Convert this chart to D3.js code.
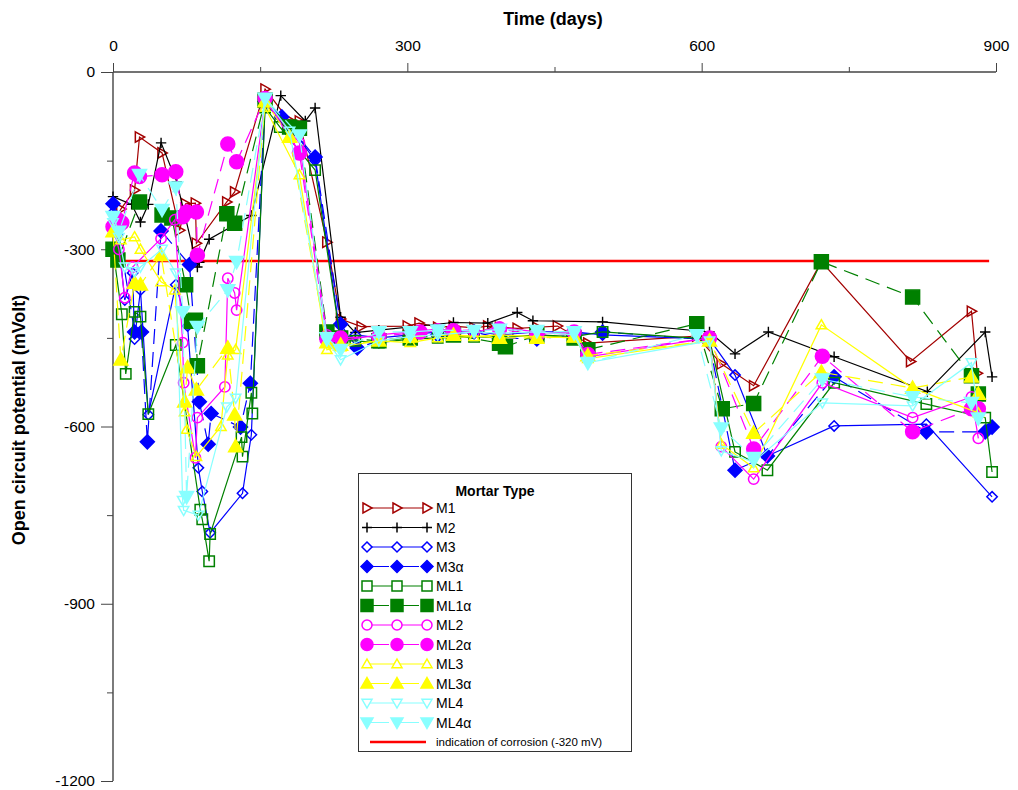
<!DOCTYPE html>
<html><head><meta charset="utf-8">
<script src="https://cdn.jsdelivr.net/npm/d3@7"></script>
<style>body{margin:0;background:#fff;} text{font-family:"Liberation Sans",Arial,sans-serif;}</style>
</head><body>
<svg id="c" width="1018" height="790"></svg>
<script>
// ---- data: [day, mV] ----
const M1 = [[0,-260],[8,-232],[22,-200],[27,-110],[50,-137],[68,-268],[74,-223],[84,-222],[85,-290],[116,-220],[124,-203],[155,-29],[179,-81],[190,-83],[218,-288],[232,-418],[253,-431],[300,-430],[312,-425],[331,-432],[347,-430],[368,-433],[382,-430],[394,-432],[412,-434],[432,-432],[453,-430],[484,-459],[595,-447],[620,-494],[653,-531],[722,-321],[813,-490],[875,-405],[881,-510]];
const M2 = [[0,-211],[19,-224],[28,-254],[36,-224],[49,-120],[65,-186],[86,-330],[88,-322],[98,-283],[141,-243],[171,-40],[196,-83],[206,-61],[232,-415],[247,-441],[271,-437],[347,-424],[382,-425],[412,-407],[428,-421],[499,-423],[608,-440],[634,-477],[668,-440],[735,-482],[830,-541],[889,-440],[896,-516]];
const M3 = [[0,-238],[5,-275],[12,-386],[20,-340],[22,-452],[28,-369],[36,-580],[64,-360],[76,-430],[87,-670],[91,-710],[99,-780],[132,-713],[141,-614],[155,-55],[180,-90],[206,-150],[232,-450],[247,-445],[271,-450],[303,-445],[331,-440],[368,-438],[394,-445],[432,-440],[470,-440],[499,-445],[608,-452],[634,-513],[667,-650],[735,-599],[829,-596],[896,-719]];
const M3a = [[0,-223],[5,-265],[22,-440],[29,-440],[35,-626],[49,-269],[78,-326],[88,-558],[97,-630],[100,-578],[130,-601],[140,-527],[155,-50],[172,-76],[206,-144],[232,-427],[249,-467],[271,-455],[303,-448],[331,-445],[368,-440],[394,-450],[432,-452],[470,-445],[499,-440],[607,-453],[634,-674],[667,-650],[735,-516],[829,-609],[889,-609],[896,-601]];
const ML1 = [[0,-300],[9,-410],[13,-511],[22,-406],[28,-414],[36,-579],[64,-462],[89,-741],[91,-757],[98,-828],[99,-782],[131,-618],[132,-651],[141,-543],[142,-578],[155,-60],[170,-93],[206,-166],[232,-455],[247,-455],[271,-458],[303,-452],[331,-450],[368,-448],[394,-450],[432,-445],[470,-448],[499,-440],[608,-452],[634,-643],[667,-674],[735,-526],[829,-562],[889,-585],[896,-677]];
const ML1a = [[0,-300],[5,-318],[27,-220],[50,-242],[60,-247],[74,-360],[80,-422],[84,-420],[86,-497],[116,-240],[124,-256],[155,-48],[180,-93],[190,-95],[218,-440],[232,-450],[271,-455],[303,-450],[347,-445],[394,-459],[400,-465],[432,-445],[470,-450],[484,-470],[595,-426],[621,-570],[653,-561],[722,-321],[815,-381],[875,-514],[882,-545]];
const ML2 = [[0,-262],[6,-300],[12,-382],[20,-330],[49,-282],[63,-250],[71,-458],[72,-526],[84,-653],[86,-585],[114,-533],[117,-349],[124,-374],[126,-403],[155,-50],[190,-120],[218,-445],[232,-455],[271,-445],[303,-440],[331,-435],[368,-440],[394,-432],[432,-440],[470,-445],[484,-482],[608,-450],[620,-634],[653,-689],[723,-526],[815,-585],[875,-550],[882,-620]];
const ML2a = [[0,-262],[5,-250],[9,-255],[22,-171],[27,-177],[50,-174],[64,-169],[71,-245],[75,-237],[85,-237],[86,-310],[117,-122],[126,-152],[155,-45],[190,-137],[218,-452],[232,-450],[271,-448],[313,-440],[347,-438],[394,-435],[432,-445],[470,-440],[484,-478],[608,-450],[653,-638],[723,-481],[815,-609],[875,-570],[882,-570]];
const ML3 = [[0,-270],[8,-284],[22,-279],[28,-300],[49,-355],[63,-369],[73,-575],[75,-605],[85,-651],[110,-600],[117,-479],[125,-470],[155,-60],[190,-174],[218,-470],[232,-465],[271,-455],[303,-458],[331,-450],[368,-448],[394,-445],[432,-448],[470,-450],[484,-485],[608,-455],[620,-630],[653,-670],[722,-428],[815,-535],[882,-577]];
const ML3a = [[0,-270],[8,-487],[22,-357],[28,-360],[49,-310],[73,-558],[76,-500],[85,-538],[117,-467],[124,-580],[125,-634],[155,-50],[180,-110],[218,-458],[232,-462],[271,-455],[303,-448],[347,-445],[394,-450],[432,-450],[470,-448],[484,-480],[608,-455],[653,-611],[722,-508],[815,-535],[875,-516],[882,-545]];
const ML4 = [[0,-255],[6,-280],[12,-330],[22,-338],[28,-330],[50,-300],[64,-340],[71,-725],[72,-742],[87,-750],[116,-567],[125,-552],[155,-45],[180,-100],[218,-455],[232,-487],[271,-455],[303,-448],[331,-445],[368,-440],[394,-442],[432,-440],[470,-445],[484,-492],[608,-455],[620,-641],[653,-660],[723,-560],[815,-565],[875,-492],[882,-586]];
const ML4a = [[0,-245],[6,-270],[27,-174],[50,-233],[64,-195],[71,-406],[75,-719],[86,-431],[117,-369],[126,-321],[155,-45],[190,-107],[218,-450],[232,-470],[271,-440],[303,-440],[331,-437],[368,-438],[394,-436],[432,-438],[470,-440],[484,-492],[595,-445],[620,-603],[653,-653],[723,-520],[815,-550],[875,-560],[882,-586]];

const seriesNames = ["M1","M2","M3","M3α","ML1","ML1α","ML2","ML2α","ML3","ML3α","ML4","ML4α"];
const seriesData = [M1,M2,M3,M3a,ML1,ML1a,ML2,ML2a,ML3,ML3a,ML4,ML4a];
const seriesColors = ["#a30000","#000000","#0000ff","#0000ff","#008000","#008000","#ff00ff","#ff00ff","#ffff00","#ffff00","#88ffff","#88ffff"];
const seriesShapes = ["triR","plus","diamond","diamond","square","square","circle","circle","triUp","triUp","triDown","triDown"];
const seriesFilled = [false,false,false,true,false,true,false,true,false,true,false,true];
const xTicks = [0,300,600,900];
const xMinor = [150,450,750];
const yTicks = [0,-300,-600,-900,-1200];
const yMinor = [-150,-450,-750,-1050];
const corrosionLevel = -320;

// ---- layout ----
const svg = d3.select("#c");
const x = d3.scaleLinear().domain([0,900]).range([113,996]);
const y = d3.scaleLinear().domain([0,-1200]).range([72,781]);

function shapePath(shape, r){
  switch(shape){
    case "triR": return `M${-r*0.8},${-r}L${r},0L${-r*0.8},${r}Z`;
    case "plus": return `M${-r},0H${r}M0,${-r}V${r}`;
    case "diamond": return `M0,${-r}L${r},0L0,${r}L${-r},0Z`;
    case "square": return `M${-r},${-r}H${r}V${r}H${-r}Z`;
    case "circle": return d3.arc()({innerRadius:0,outerRadius:r,startAngle:0,endAngle:2*Math.PI});
    case "triUp": return `M0,${-r}L${r},${r*0.75}L${-r},${r*0.75}Z`;
    case "triDown": return `M0,${r}L${r},${-r*0.75}L${-r},${-r*0.75}Z`;
  }
}
function markerR(i){ return seriesFilled[i] ? 7 : 5.2; }

// axes
const gx = svg.append("g").attr("transform","translate(0,72)");
gx.call(d3.axisTop(x).tickValues(xTicks).tickSize(9).tickPadding(12).tickFormat(d3.format("d")));
const gxm = svg.append("g").attr("transform","translate(0,72)");
gxm.call(d3.axisTop(x).tickValues(xMinor).tickSize(5).tickFormat(""));
gxm.select(".domain").remove();
const gy = svg.append("g").attr("transform","translate(113,0)");
gy.call(d3.axisLeft(y).tickValues(yTicks).tickSize(12).tickPadding(6).tickFormat(d=>String(d)));
const gym = svg.append("g").attr("transform","translate(113,0)");
gym.call(d3.axisLeft(y).tickValues(yMinor).tickSize(6).tickFormat(""));
gym.select(".domain").remove();
gx.select(".domain").attr("d","M113,0H996");
gy.select(".domain").attr("d","M0,72V781");
svg.selectAll(".domain").attr("stroke","#444").attr("stroke-width",1.4);
svg.selectAll(".tick line").attr("stroke","#444");
svg.selectAll(".tick text").attr("font-size",15.5).attr("fill","#000").style("font-family","'Liberation Sans',Arial,sans-serif");

svg.append("text").attr("x",553).attr("y",25).attr("text-anchor","middle")
  .attr("font-size",18).attr("font-weight","bold").text("Time (days)");
svg.append("text").attr("transform","translate(25,420) rotate(-90)").attr("text-anchor","middle")
  .attr("font-size",18).attr("font-weight","bold").text("Open circuit potential (mVolt)");

// corrosion line
svg.append("line").attr("x1",x(2)).attr("x2",x(893)).attr("y1",y(corrosionLevel)).attr("y2",y(corrosionLevel))
  .attr("stroke","#ff0000").attr("stroke-width",2.5);

const line = d3.line().x(d=>x(d[0])).y(d=>y(d[1]));
seriesData.forEach((data,i)=>{
  const g = svg.append("g");
  g.append("path").attr("d",line(data)).attr("fill","none").attr("stroke",seriesColors[i])
    .attr("stroke-width",1.2).attr("stroke-dasharray",seriesFilled[i]?"15,8":null);
  g.selectAll("path.m").data(data).join("path").attr("class","m")
    .attr("transform",d=>`translate(${x(d[0])},${y(d[1])})`)
    .attr("d",shapePath(seriesShapes[i],markerR(i)))
    .attr("fill",seriesFilled[i]?seriesColors[i]:"none")
    .attr("stroke",seriesColors[i]).attr("stroke-width",seriesShapes[i]==="plus"?1.4:1.5);
});

// legend
const lg = svg.append("g");
lg.append("rect").attr("x",358.5).attr("y",473.5).attr("width",273).attr("height",278)
  .attr("fill","#fff").attr("stroke","#333").attr("stroke-width",1);
lg.append("text").attr("x",495).attr("y",496).attr("text-anchor","middle").attr("font-size",14)
  .attr("font-weight","bold").text("Mortar Type");
seriesNames.forEach((name,i)=>{
  const yy = 508 + i*19.5;
  lg.append("line").attr("x1",367).attr("x2",427).attr("y1",yy).attr("y2",yy)
    .attr("stroke",seriesColors[i]).attr("stroke-width",1.2).attr("stroke-dasharray",seriesFilled[i]?"22,8":null);
  [367,397,427].forEach(px=>{
    lg.append("path").attr("transform",`translate(${px},${yy})`).attr("d",shapePath(seriesShapes[i],seriesFilled[i]?6:5))
      .attr("fill",seriesFilled[i]?seriesColors[i]:"#fff").attr("stroke",seriesColors[i]).attr("stroke-width",1.5);
  });
  lg.append("text").attr("x",436).attr("y",yy+5).attr("font-size",14).text(name);
});
const cy = 508 + 12*19.5;
lg.append("line").attr("x1",370).attr("x2",426).attr("y1",cy).attr("y2",cy).attr("stroke","#ff0000").attr("stroke-width",2.5);
lg.append("text").attr("x",436).attr("y",cy+4).attr("font-size",11.5).text("indication of corrosion (-320 mV)");
</script>
</body></html>
